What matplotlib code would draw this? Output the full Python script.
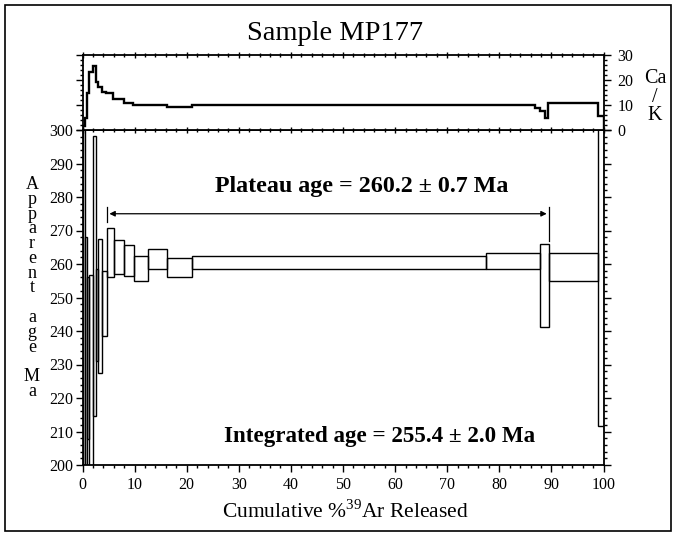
import matplotlib
matplotlib.use("Agg")
import matplotlib.pyplot as plt
from matplotlib.patches import Rectangle
from matplotlib.ticker import MultipleLocator

plt.rcParams['font.family'] = ['Liberation Serif', 'DejaVu Serif']
plt.rcParams['mathtext.fontset'] = 'custom'
plt.rcParams['mathtext.rm'] = 'Liberation Serif'

# Age spectrum steps: cumulative %39Ar edges, box top and bottom ages (Ma)
step_left = [0.0, 0.4, 0.95, 1.3, 2.1, 2.55, 3.0, 3.7, 4.76, 6.05, 8.0, 9.8,
             12.6, 16.3, 21.1, 77.4, 87.9, 89.5, 99.0]
step_right = [0.4, 0.95, 1.3, 2.1, 2.55, 3.0, 3.7, 4.76, 6.05, 8.0, 9.8, 12.6,
              16.3, 21.1, 77.4, 87.9, 89.5, 99.0, 100.0]
age_top = [320.0, 268.2, 256.0, 256.6, 298.2, 258.5, 267.5, 258.0, 270.8, 267.1,
           265.6, 262.3, 264.6, 261.8, 262.3, 263.4, 265.9, 263.2, 320.0]
age_bottom = [180.0, 180.0, 207.8, 180.0, 214.6, 231.0, 227.6, 238.5, 256.1, 257.1,
              256.4, 254.9, 258.6, 256.1, 258.4, 258.4, 241.1, 254.9, 211.7]

# Ca/K spectrum
cak_edges = [0, 0.5, 0.9, 1.25, 2.1, 2.5, 3.0, 3.8, 4.6, 5.9, 8.0, 9.75, 16.2,
             21.1, 86.9, 87.8, 88.8, 89.4, 99.0, 100]
cak_vals = [1.6, 5, 15, 23.3, 25.6, 19.3, 17.3, 15.3, 14.7, 12.3, 10.9, 9.9, 9.3,
            9.9, 8.9, 7.7, 4.7, 10.7, 5.6]

plateau_start, plateau_end = 4.76, 89.5
plateau_text = "Plateau age = 260.2 \u00b1 0.7 Ma"
integrated_text = "Integrated age = 255.4 \u00b1 2.0 Ma"
title = "Sample MP177"

W, H = 677, 536
fig = plt.figure(figsize=(W / 100, H / 100), dpi=100)

def fx(px):
    return px / W

def fy(py):
    return 1 - py / H

L, R = 82.5, 603.5
ax = fig.add_axes([fx(L), fy(465), fx(R) - fx(L), fy(130) - fy(465)])
axt = fig.add_axes([fx(L), fy(130), fx(R) - fx(L), fy(55) - fy(130)])

# main panel
for l, r, t, b in zip(step_left, step_right, age_top, age_bottom):
    ax.add_patch(Rectangle((l, b), r - l, t - b, fill=False, edgecolor='black',
                           linewidth=1.0, clip_on=True))
ax.set_xlim(0, 100)
ax.set_ylim(200, 300)
ax.xaxis.set_major_locator(MultipleLocator(10))
ax.xaxis.set_minor_locator(MultipleLocator(2))
ax.yaxis.set_major_locator(MultipleLocator(10))
ax.yaxis.set_minor_locator(MultipleLocator(2))
ax.tick_params(axis='both', which='both', direction='out', labelsize=11.5, width=1.0)
ax.tick_params(axis='x', which='both', bottom=True, top=False)
ax.tick_params(axis='y', which='both', left=True, right=True)
ax.tick_params(which='major', length=5)
ax.tick_params(which='minor', length=2.5)
ax.tick_params(axis='y', pad=2)
for s in ax.spines.values():
    s.set_linewidth(1.3)

# plateau arrow
arrow_y = 275
ax.annotate('', xy=(plateau_end - 0.4, arrow_y), xytext=(plateau_start + 0.4, arrow_y),
            arrowprops=dict(arrowstyle='<|-|>', color='black', lw=0.9,
                            mutation_scale=8, shrinkA=0, shrinkB=0))
ax.plot([plateau_start, plateau_start], [277, 272.6], color='black', lw=0.9)
ax.plot([plateau_end, plateau_end], [277, 266.8], color='black', lw=0.9)
ax.text(53.6, 283, plateau_text, ha='center', va='center', fontsize=17.3, fontweight='bold')
ax.text(57.0, 208.4, integrated_text, ha='center', va='center', fontsize=16.6,
        fontweight='bold')

# top panel
xs = [cak_edges[0]]
ys = [0]
for i, v in enumerate(cak_vals):
    xs += [cak_edges[i], cak_edges[i + 1]]
    ys += [v, v]
xs.append(cak_edges[-1])
ys.append(0)
axt.plot(xs, ys, color='black', lw=1.7, solid_joinstyle='miter')
axt.set_xlim(0, 100)
axt.set_ylim(0, 30)
axt.xaxis.set_major_locator(MultipleLocator(10))
axt.xaxis.set_minor_locator(MultipleLocator(2))
axt.yaxis.set_major_locator(MultipleLocator(10))
axt.yaxis.set_minor_locator(MultipleLocator(2))
axt.tick_params(axis='both', which='both', direction='out', labelsize=11.5, width=1.0)
axt.tick_params(axis='x', which='both', bottom=True, top=True, labelbottom=False)
axt.tick_params(axis='y', which='both', left=True, right=True, labelleft=False,
                labelright=True, pad=5)
axt.tick_params(which='major', length=5)
axt.tick_params(which='minor', length=2.5)
for s in axt.spines.values():
    s.set_linewidth(1.3)
axt.xaxis.set_tick_params(which='both', direction='inout')

# texts
fig.text(fx(335), fy(33), title, ha='center', va='center', fontsize=20.5)
fig.text(fx(345), fy(512), "Cumulative %$^{\\mathrm{39}}$Ar Released", ha='center',
         va='center', fontsize=15.5)
ylabel_lines = ["A", "p", "p", "a", "r", "e", "n", "t", "", "a", "g", "e", "", "M", "a"]
fig.text(fx(32), fy(288), "\n".join(ylabel_lines), ha='center', va='center',
         fontsize=13, linespacing=0.83)
fig.text(fx(655), fy(97), "Ca\n/\nK", ha='center', va='center', fontsize=14.5,
         linespacing=0.95)

# figure frame
fig.add_artist(Rectangle((fx(5), fy(531)), fx(671) - fx(5), fy(5) - fy(531),
                         transform=fig.transFigure, fill=False, edgecolor='black',
                         linewidth=1.2))

fig.savefig("out.png", dpi=100)
